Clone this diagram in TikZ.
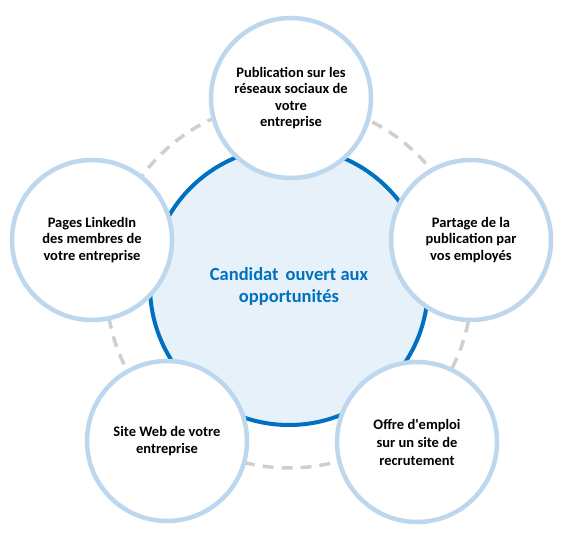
\documentclass[tikz,border=0pt]{standalone}
\usepackage{fontspec}
\setmainfont{Carlito}[Ligatures=TeXOff]
\definecolor{ringgrey}{HTML}{CFCFCF}
\definecolor{outerblue}{HTML}{BDD7EE}
\definecolor{darkblue}{HTML}{0070C0}
\definecolor{paleblue}{HTML}{E7F1F9}
\begin{document}
\begin{tikzpicture}[x=1pt,y=-1pt,
  ring/.style={draw=ringgrey,line width=3.5pt,dash pattern=on 11pt off 8pt},
  core/.style={circle,draw=darkblue,fill=paleblue,line width=4pt,minimum size=278pt,inner sep=0pt},
  coretext/.style={text=darkblue,font=\fontsize{18.5}{22}\selectfont\bfseries,align=center,inner sep=0pt},
  petal/.style={circle,draw=outerblue,fill=white,line width=4.5pt,minimum size=160pt,inner sep=0pt,
    align=center,font=\fontsize{14.5}{16.5}\selectfont\bfseries,text=black}]
\useasboundingbox (0,0) rectangle (565,534);
\coordinate (c) at (289,285);
\draw[ring] (c) circle[radius=183pt];
\node[core] (core) at (289,286) {};
\node[coretext] (ct) at (289,286) {Candidat\hspace{7pt}ouvert aux\\opportunités};
\node[petal] (top) at (291,98) {Publication sur les\\réseaux sociaux de\\votre\\entreprise};
\node[petal] (right) at (471,240) {Partage de la\\publication par\\vos employés};
\node[petal] (left) at (92,240) {Pages LinkedIn\\des membres de\\votre entreprise};
\node[petal] (bl) at (167,441) {Site Web de votre\\entreprise};
\node[petal,font=\fontsize{14.5}{18}\selectfont\bfseries] (br) at (417,442) {Offre d'emploi\\sur un site de\\recrutement};
\end{tikzpicture}
\end{document}
